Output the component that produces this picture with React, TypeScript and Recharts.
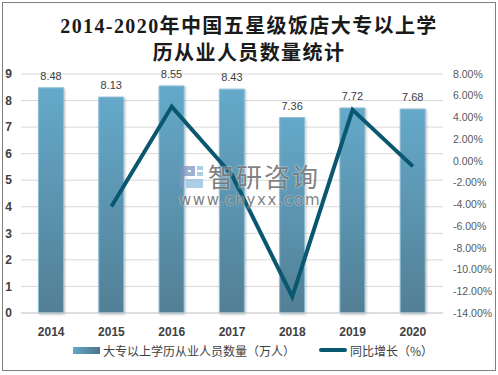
import React from 'react';
import { ComposedChart, Bar, Line, XAxis, YAxis, CartesianGrid, LabelList, Legend } from 'recharts';

const years = ['2014', '2015', '2016', '2017', '2018', '2019', '2020'];
const staff = [8.48, 8.13, 8.55, 8.43, 7.36, 7.72, 7.68];
const growth = [null, -4.2, 5.0, -1.3, -12.5, 4.7, -0.5];
const leftTicks = [0, 1, 2, 3, 4, 5, 6, 7, 8, 9];
const rightTicks = [-14, -12, -10, -8, -6, -4, -2, 0, 2, 4, 6, 8];

const BAR_NAME = '大专以上学历从业人员数量（万人）';
const LINE_NAME = '同比增长（%）';

const data = years.map((year, i) => ({ year, staff: staff[i], growth: growth[i] }));

const cjk = '"Noto Sans CJK SC", "Noto Sans", sans-serif';

const ChartLegend = () => (
  <div style={{ position: 'relative', width: 498, height: 20, fontFamily: cjk, fontSize: 12, color: '#404040' }}>
    <span
      style={{
        position: 'absolute',
        left: 73,
        top: 6,
        width: 27,
        height: 7,
        background: 'linear-gradient(90deg, #65a8c8, #4f7388)',
      }}
    />
    <span style={{ position: 'absolute', left: 103, top: 1, lineHeight: '18px', whiteSpace: 'nowrap' }}>{BAR_NAME}</span>
    <span style={{ position: 'absolute', left: 319, top: 7, width: 28, height: 4, borderRadius: 2, background: '#0a5770' }} />
    <span style={{ position: 'absolute', left: 350, top: 1, lineHeight: '18px', whiteSpace: 'nowrap' }}>{LINE_NAME}</span>
  </div>
);

const Watermark = () => (
  <div style={{ position: 'absolute', left: 0, top: 0, width: 498, height: 375, pointerEvents: 'none' }}>
    <svg width={498} height={375} style={{ position: 'absolute', left: 0, top: 0 }}>
      <g opacity={0.75}>
        <path d="M180 166h15v10h-11v12h-4z" fill="#7f97c4" />
        <path d="M188 170h3v2h-3z" fill="#ffffff" />
        <path d="M197 166h6v4h-6zM197 172h6v4h-6zM186 179h17v9h-17z" fill="#8fbfe0" />
      </g>
    </svg>
    <div
      style={{
        position: 'absolute',
        left: 208,
        top: 163,
        fontFamily: cjk,
        fontSize: 26,
        lineHeight: '26px',
        letterSpacing: 2,
        color: 'rgba(95,95,95,0.8)',
        textShadow: '0 0 2px #fff',
        whiteSpace: 'nowrap',
      }}
    >
      智研咨询
    </div>
    <div
      style={{
        position: 'absolute',
        left: 179,
        top: 192,
        fontFamily: '"DejaVu Sans", sans-serif',
        fontSize: 15,
        lineHeight: '16px',
        letterSpacing: 1.6,
        color: 'rgba(95,95,95,0.8)',
        textShadow: '0 0 2px #fff',
        whiteSpace: 'nowrap',
      }}
    >
      www.chyxx.com
    </div>
  </div>
);

export default function App() {
  return (
    <div style={{ position: 'absolute', left: 0, top: 0, width: 498, height: 375, background: '#fff' }}>
      <ComposedChart
        width={498}
        height={375}
        data={data}
        margin={{ top: 74, right: 0, bottom: 12, left: 0 }}
        barCategoryGap="29%"
      >
        <defs>
          <linearGradient id="barFill" x1="0" y1="0" x2="0" y2="1">
            <stop offset="0%" stopColor="#65a9ca" />
            <stop offset="100%" stopColor="#527f95" />
          </linearGradient>
          <filter id="softShadow" x="-20%" y="-5%" width="140%" height="110%">
            <feDropShadow dx="1" dy="1" stdDeviation="1" floodColor="#000" floodOpacity="0.25" />
          </filter>
        </defs>
        <CartesianGrid vertical={false} stroke="#d9d9d9" yAxisId="left" />
        <XAxis
          dataKey="year"
          axisLine={{ stroke: '#d0d0d0' }}
          tickLine={false}
          tickMargin={8}
          height={30}
          interval={0}
          tick={{ fontFamily: '"Liberation Sans", sans-serif', fontSize: 12, fontWeight: 700, fill: '#404040' }}
        />
        <YAxis
          yAxisId="left"
          width={21}
          domain={[0, 9]}
          ticks={leftTicks}
          interval={0}
          axisLine={false}
          tickLine={false}
          tickMargin={3}
          tick={{ fontFamily: '"Liberation Sans", sans-serif', fontSize: 12, fontWeight: 700, fill: '#404040' }}
        />
        <YAxis
          yAxisId="right"
          orientation="right"
          width={55}
          domain={[-14, 8]}
          ticks={rightTicks}
          interval={0}
          axisLine={false}
          tickLine={false}
          tickMargin={4}
          tickFormatter={(v: number) => `${v.toFixed(2)}%`}
          tick={{ fontFamily: '"Liberation Sans", sans-serif', fontSize: 10.5, fill: '#595959' }}
        />
        <Legend verticalAlign="bottom" content={<ChartLegend />} wrapperStyle={{ left: 0, bottom: 14, width: 498 }} />
        <Bar
          yAxisId="left"
          dataKey="staff"
          name={BAR_NAME}
          fill="url(#barFill)"
          stroke="#8fbdd4"
          strokeWidth={1}
          filter="url(#softShadow)"
          isAnimationActive={false}
        >
          <LabelList
            dataKey="staff"
            position="top"
            offset={8}
            style={{ fontFamily: '"Liberation Sans", sans-serif', fontSize: 11, fill: '#404040' }}
          />
        </Bar>
        <Line
          yAxisId="right"
          dataKey="growth"
          name={LINE_NAME}
          stroke="#0a5770"
          strokeWidth={4}
          dot={false}
          activeDot={false}
          isAnimationActive={false}
        />
      </ComposedChart>
      <Watermark />
      <div
        style={{
          position: 'absolute',
          left: 0,
          top: 13,
          width: 498,
          textAlign: 'center',
          fontFamily: '"Liberation Serif", "Noto Sans CJK SC", serif',
          fontSize: 20,
          fontWeight: 700,
          lineHeight: '27px',
          letterSpacing: 1.4,
          color: '#1a1a1a',
        }}
      >
        2014-2020年中国五星级饭店大专以上学
        <br />
        历从业人员数量统计
      </div>
      <div style={{ position: 'absolute', left: 2, top: 2, width: 492, height: 367, border: '1px solid #808080', pointerEvents: 'none' }} />
    </div>
  );
}
